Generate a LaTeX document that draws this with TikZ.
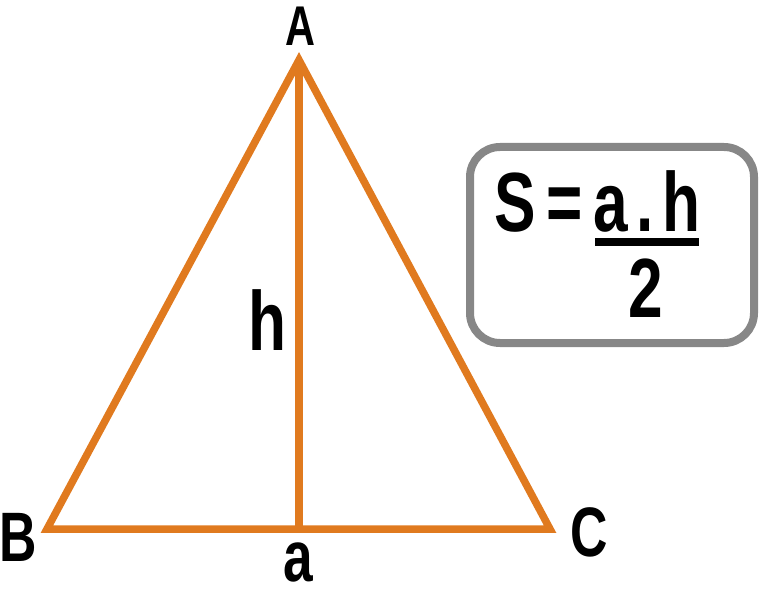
\documentclass[tikz,border=0pt]{standalone}
\usepackage{fontspec}
\newfontfamily\labfont[FakeStretch=0.74]{Liberation Sans}
\definecolor{tri}{HTML}{E07A1F}
\definecolor{boxgray}{HTML}{878787}
\begin{document}
\begin{tikzpicture}[x=1pt,y=-1pt,
  edge/.style={draw=tri,line width=7.5pt,line join=miter},
  vlabel/.style={inner sep=0pt,anchor=base,font=\labfont\bfseries\fontsize{70}{70}\selectfont},
  blabel/.style={inner sep=0pt,anchor=base,font=\labfont\bfseries\fontsize{84}{84}\selectfont}]
\useasboundingbox (0,0) rectangle (759,593);
\coordinate (A) at (299,60);
\coordinate (B) at (47,529);
\coordinate (C) at (550,529);
\coordinate (H) at (299,529);
\draw[edge] (A) -- (B) -- (C) -- cycle;
\draw[edge] (A) -- (H);
\node[vlabel,font=\labfont\bfseries\fontsize{56}{56}\selectfont] (lA) at (300,46) {A};
\node[vlabel] (lB) at (18,561) {B};
\node[vlabel] (lC) at (589,556) {C};
\node[blabel] (lh) at (267.5,350) {h};
\node[blabel,font=\labfont\bfseries\fontsize{72}{72}\selectfont] (la) at (298,581) {a};
\node[draw=boxgray,line width=8pt,rounded corners=30pt,minimum width=284pt,minimum height=196pt,inner sep=0pt] (box) at (612,245) {};
\node[blabel] (fS) at (515,232) {S};
\node[blabel] (feq) at (565,232) {=};
\node[blabel] (fa) at (611,232) {a};
\node[blabel] (fdot) at (645,232) {.};
\node[blabel] (fh) at (681,232) {h};
\coordinate (r1) at (595,242);
\coordinate (r2) at (699,242);
\draw[line width=7.5pt] (r1) -- (r2);
\node[blabel] (f2) at (646,317) {2};
\end{tikzpicture}
\end{document}
